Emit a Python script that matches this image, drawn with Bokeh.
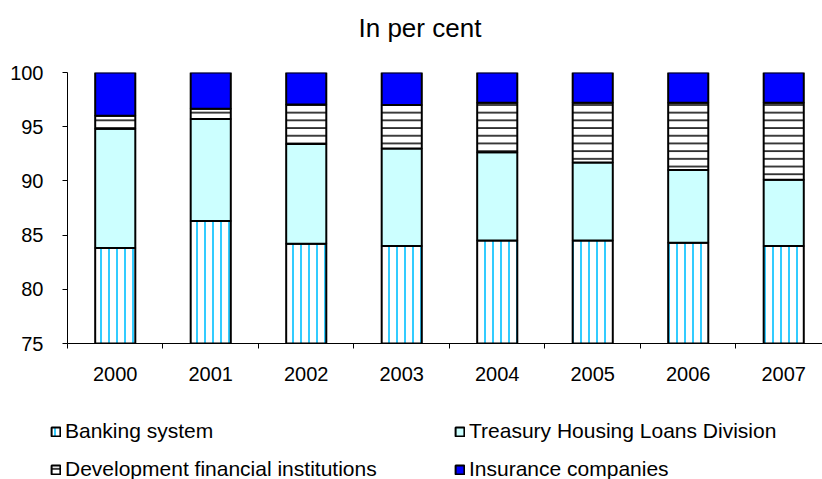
import numpy as np
from bokeh.plotting import figure
from bokeh.layouts import column, row
from bokeh.models import ColumnDataSource, Range1d, FixedTicker, Legend, LegendItem, Title
from bokeh.embed import file_html
from bokeh.resources import INLINE

years = ["2000", "2001", "2002", "2003", "2004", "2005", "2006", "2007"]
banking = [83.8, 86.3, 84.2, 84.0, 84.5, 84.5, 84.3, 84.0]
treasury = [11.0, 9.4, 9.2, 9.0, 8.15, 7.2, 6.7, 6.1]
dfi = [1.2, 0.95, 3.65, 4.0, 4.55, 5.5, 6.2, 7.1]
insurance = [4.0, 3.35, 2.95, 3.0, 2.8, 2.8, 2.8, 2.8]
series_names = ["Banking system", "Treasury Housing Loans Division",
                "Development financial institutions", "Insurance companies"]

FONT = "Liberation Sans"
x = np.arange(len(years)) + 0.5
b = np.array(banking)
t = b + np.array(treasury)
d = t + np.array(dfi)
i_top = d + np.array(insurance)

src = ColumnDataSource(dict(x=x, b0=np.zeros(len(x)), b1=b, t1=t, d1=d, i1=i_top))
cols = [("b0", "b1"), ("b1", "t1"), ("t1", "d1"), ("d1", "i1")]

styles = [
    dict(fill_color="white", line_color="black", line_width=2, hatch_pattern="|",
         hatch_color="#33CCFF", hatch_scale=8, hatch_weight=2),
    dict(fill_color="#CCFFFF", line_color="black", line_width=2),
    dict(fill_color="white", line_color="black", line_width=2, hatch_pattern="-",
         hatch_color="black", hatch_scale=7.7, hatch_weight=1.5),
    dict(fill_color="#0000FF", line_color="black", line_width=2),
]

p = figure(width=822, height=400, output_backend="svg", toolbar_location=None,
           x_range=Range1d(0, 7.906), y_range=Range1d(75, 100),
           min_border_left=67, min_border_right=0, min_border_top=72, min_border_bottom=57)
p.outline_line_color = None
p.grid.visible = False

W = 0.42
for (lo, hi), s in zip(cols, styles):
    p.vbar(x="x", bottom=lo, top=hi, width=W, source=src, **s)

# axes
p.xaxis.ticker = FixedTicker(ticks=list(x), minor_ticks=list(np.arange(len(years) + 1)))
p.xaxis.major_label_overrides = {float(xx): y for xx, y in zip(x, years)}
p.xaxis.major_tick_line_color = None
p.xaxis.minor_tick_line_color = "black"
p.xaxis.minor_tick_out = 5
p.xaxis.minor_tick_in = 0
p.yaxis.ticker = FixedTicker(ticks=[75, 80, 85, 90, 95, 100], minor_ticks=[])
p.yaxis.major_tick_out = 5
p.yaxis.major_tick_in = 0
for ax in (p.xaxis, p.yaxis):
    ax.axis_line_color = "black"
    ax.axis_line_width = 1
    ax.major_label_text_font = FONT
    ax.major_label_text_font_size = "20px"
    ax.major_label_text_color = "black"
p.xaxis.major_label_standoff = 17
p.yaxis.major_label_standoff = 19

# spacer between frame and title (pushes the title up)
p.add_layout(Title(text=" ", text_font=FONT, text_font_size="20px", standoff=6), "above")
p.add_layout(Title(text="In per cent", text_font=FONT, text_font_size="26px",
                   text_font_style="normal", text_color="black", align="left",
                   offset=291, standoff=0), "above")

# legend panel (hidden renderers only supply legend swatches)
pl = figure(width=822, height=79, output_backend="svg", toolbar_location=None,
            x_range=Range1d(0, 7.906), y_range=Range1d(75, 100),
            x_axis_location=None, y_axis_location=None, min_border=0)
pl.outline_line_color = None
pl.grid.visible = False
lr = []
for (lo, hi), s in zip(cols, styles):
    r = pl.vbar(x="x", bottom=lo, top=hi, width=W, source=src, **s)
    r.visible = False
    lr.append(r)

order = [0, 2, 1, 3]  # column-major: left column, then right column
legend = Legend(items=[LegendItem(label=series_names[k], renderers=[lr[k]]) for k in order],
                ncols=2, location=(50, -2), glyph_width=11, glyph_height=11,
                label_height=22, label_width=375, spacing=14, padding=0, margin=0,
                label_standoff=4, label_text_font=FONT, label_text_font_size="21px",
                label_text_color="black",
                border_line_color=None, background_fill_alpha=0)
pl.add_layout(legend, "center")

layout = column(p, row(pl), spacing=0)
open("out.html", "w").write(file_html(layout, INLINE))
